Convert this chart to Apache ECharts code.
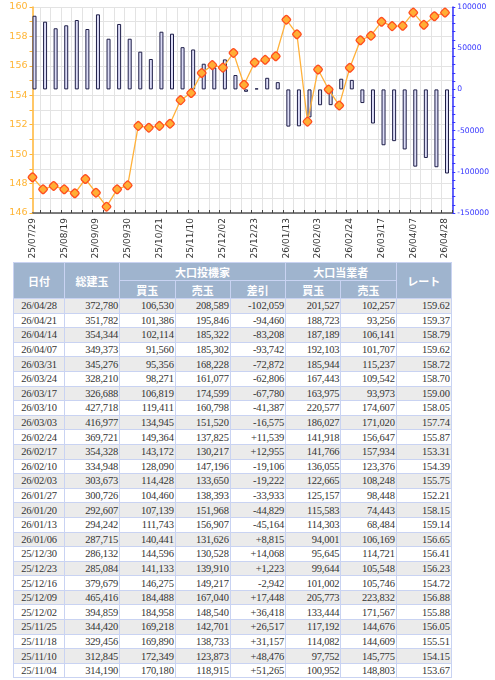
<!DOCTYPE html>
<html>
<head>
<meta charset="utf-8">
<script src="https://cdn.jsdelivr.net/npm/echarts@6/dist/echarts.min.js"></script>
<style>
html,body{margin:0;padding:0;background:#fff;}
#chart{position:absolute;left:0;top:0;width:495px;height:262px;}
#tbl{position:absolute;left:13px;top:262px;border-collapse:collapse;table-layout:fixed;width:438px;}
#tbl th{background:#9fb4ce;color:#fff;font-family:"Noto Sans CJK JP",sans-serif;font-weight:bold;font-size:11px;border:1px solid #c9d3f2;padding:0;height:17px;line-height:16px;text-align:center;}
#tbl td{font-family:"Liberation Serif",serif;font-size:10.5px;letter-spacing:-0.2px;color:#333;border:1px solid #c9d3f2;padding:0 1px 0 0;height:13.6px;line-height:13px;text-align:right;white-space:nowrap;overflow:hidden;}
#tbl td.d{text-align:center;padding:0;}
#tbl tr.g td{background:#ebebeb;}
#tbl tr.w td{background:#fff;}
</style>
</head>
<body>
<div id="chart"></div>
<table id="tbl"></table>
<script>
// ---- older weeks (chart only) ----
const earlyDates = ["25/07/29","25/08/05","25/08/12","25/08/19","25/08/26","25/09/02","25/09/09","25/09/16","25/09/23","25/09/30","25/10/07","25/10/14","25/10/21","25/10/28"];
const earlyNet  = [89400, 82200, 74200, 77800, 84200, 73300, 91100, 61500, 79400, 61500, 45800, 36900, 70000, 67600];
const earlyRate = [148.43, 147.61, 147.84, 147.61, 147.34, 148.31, 147.38, 146.43, 147.61, 147.88, 151.92, 151.80, 151.92, 152.07];

// ---- table (newest first) ----
const tableDates = ["26/04/28","26/04/21","26/04/14","26/04/07","26/03/31","26/03/24","26/03/17","26/03/10","26/03/03","26/02/24","26/02/17","26/02/10","26/02/03","26/01/27","26/01/20","26/01/13","26/01/06","25/12/30","25/12/23","25/12/16","25/12/09","25/12/02","25/11/25","25/11/18","25/11/10","25/11/04"];
const totalOI  = [372780,351782,354344,349373,345276,328210,326688,427718,416977,369721,354328,334948,303673,300726,292607,294242,287715,286132,285084,379679,465416,394859,344420,329456,312845,314190];
const specBuy  = [106530,101386,102114,91560,95356,98271,106819,119411,134945,149364,143172,128090,114428,104460,107139,111743,140441,144596,141133,146275,184488,184958,169218,169890,172349,170180];
const specSell = [208589,195846,185322,185302,168228,161077,174599,160798,151520,137825,130217,147196,133650,138393,151968,156907,131626,130528,139910,149217,167040,148540,142701,138733,123873,118915];
const specNet  = [-102059,-94460,-83208,-93742,-72872,-62806,-67780,-41387,-16575,11539,12955,-19106,-19222,-33933,-44829,-45164,8815,14068,1223,-2942,17448,36418,26517,31157,48476,51265];
const commBuy  = [201527,188723,187189,192103,185944,167443,163975,220577,186027,141918,141766,136055,122665,125157,115583,114303,94001,95645,99644,101002,205773,133444,117192,114082,97752,100952];
const commSell = [102257,93256,106141,101707,115237,109542,93973,174607,171020,156647,157934,123376,108248,98448,74443,68484,106169,114721,105548,105746,223832,171567,144676,144609,145775,148803];
const tableRate = [159.62,159.37,158.79,159.62,158.72,158.70,159.00,158.05,157.74,155.87,153.31,154.39,155.75,152.21,158.15,159.14,156.65,156.41,156.23,154.72,156.88,155.88,156.05,155.51,154.15,153.67];

// ---- headers / tick labels ----
const headTop = ["日付","総建玉","大口投機家","大口当業者","レート"];
const headSub = ["買玉","売玉","差引","買玉","売玉"];
const leftTicks = {min:146, max:160, interval:2};
const rightTicks = {min:-150000, max:100000, interval:50000};
const labelEvery = 3;

// chart series (oldest first)
const dates = earlyDates.concat(tableDates.slice().reverse());
const netSeries = earlyNet.concat(specNet.slice().reverse());
const rateSeries = earlyRate.concat(tableRate.slice().reverse());

const n = dates.length;
const tickOffset = 0.69;
const xMax = n - 1 + tickOffset;
const tickVals = dates.map((d,i)=>i+tickOffset);
const labelVals = dates.map((d,i)=>i).filter(i=>i%labelEvery===0);

const chart = echarts.init(document.getElementById('chart'), null, {renderer:'canvas'});
chart.setOption({
  animation:false,
  backgroundColor:'#fff',
  grid:{left:32.5, right:42.7, top:7, height:206, containLabel:false},
  xAxis:{
    type:'value', min:0, max:xMax,
    axisLine:{show:true, onZero:false, lineStyle:{color:'#555', width:1.5}},
    axisTick:{show:true, inside:true, length:3, customValues:tickVals, lineStyle:{color:'#444', width:1}},
    splitLine:{show:true, lineStyle:{color:'#e3e3e3', width:1}},
    axisLabel:{customValues:labelVals, rotate:90, margin:5, color:'#333', fontFamily:'DejaVu Sans', fontSize:9,
      formatter:v=>dates[Math.round(v)]||''}
  },
  yAxis:[
    {type:'value', position:'left', min:leftTicks.min, max:leftTicks.max, interval:leftTicks.interval,
     axisLine:{show:true, lineStyle:{color:'#ffb535', width:1.5}},
     axisTick:{show:true, length:3, lineStyle:{color:'#ffb535'}},
     minorTick:{show:true, splitNumber:2, length:3, lineStyle:{color:'#ffb535'}},
     splitLine:{show:true, lineStyle:{color:'#e3e3e3', width:1}},
     minorSplitLine:{show:true, lineStyle:{color:'#e3e3e3', width:1}},
     axisLabel:{color:'#ffb535', fontFamily:'DejaVu Sans', fontSize:9.5, margin:5}
    },
    {type:'value', position:'right', min:rightTicks.min, max:rightTicks.max, interval:rightTicks.interval,
     axisLine:{show:true, lineStyle:{color:'#3535ff', width:1.5}},
     axisTick:{show:true, length:3, lineStyle:{color:'#3535ff'}},
     minorTick:{show:true, splitNumber:5, length:3, lineStyle:{color:'#3535ff'}},
     splitLine:{show:false},
     axisLabel:{color:'#3535ff', fontFamily:'DejaVu Sans', fontSize:7.6, margin:5, formatter:v=>String(v)}
    }
  ],
  series:[
    {type:'bar', name:'pad', yAxisIndex:1, barWidth:4, barGap:'0%', silent:true,
     data:dates.map((d,i)=>[i,null]), itemStyle:{color:'transparent'}},
    {type:'bar', name:'大口投機家 差引', yAxisIndex:1, barWidth:4, barGap:'0%',
     data:netSeries.map((v,i)=>[i,v]),
     itemStyle:{color:'#dcdcf6', borderColor:'#1e1e48', borderWidth:1}},
    {type:'line', name:'レート', yAxisIndex:0, z:5,
     data:rateSeries.map((v,i)=>[i,v]),
     lineStyle:{color:'#ffb13b', width:1.3},
     symbol:'roundRect', symbolSize:7, symbolRotate:45,
     itemStyle:{color:'#ffae35', borderColor:'#ff4d1f', borderWidth:1.3}}
  ]
});

// ---- table ----
function fmt(v){return v.toLocaleString('en-US');}
function fmtNet(v){return (v>0?'+':'')+v.toLocaleString('en-US');}
const tbl = document.getElementById('tbl');
let html = '<colgroup><col style="width:51px"><col style="width:55px"><col style="width:55.7px"><col style="width:55px"><col style="width:55.3px"><col style="width:55.4px"><col style="width:55.3px"><col style="width:55px"></colgroup>';
html += '<tr><th rowspan="2">'+headTop[0]+'</th><th rowspan="2">'+headTop[1]+'</th><th colspan="3">'+headTop[2]+'</th><th colspan="2">'+headTop[3]+'</th><th rowspan="2">'+headTop[4]+'</th></tr>';
html += '<tr>'+headSub.map(h=>'<th>'+h+'</th>').join('')+'</tr>';
tableDates.forEach((d,i)=>{
  html += '<tr class="'+(i%2===0?'g':'w')+'"><td class="d">'+d+'</td><td>'+fmt(totalOI[i])+'</td><td>'+fmt(specBuy[i])+'</td><td>'+fmt(specSell[i])+'</td><td>'+fmtNet(specNet[i])+'</td><td>'+fmt(commBuy[i])+'</td><td>'+fmt(commSell[i])+'</td><td>'+tableRate[i].toFixed(2)+'</td></tr>';
});
tbl.innerHTML = html;
</script>
</body>
</html>
